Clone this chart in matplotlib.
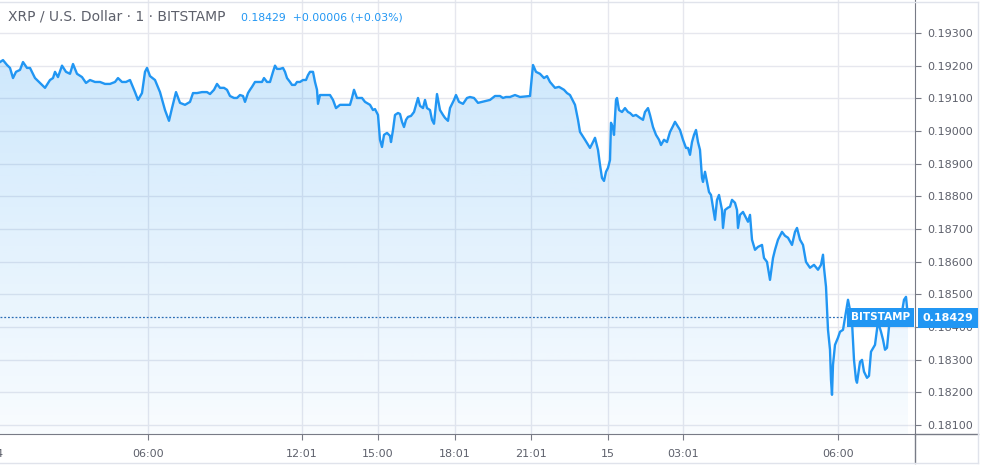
import matplotlib
matplotlib.use("Agg")
import matplotlib.pyplot as plt
import numpy as np
from matplotlib.lines import Line2D

# bar index (1-minute bars, chart spacing) and close price
bars = [0, 6, 14, 20, 26, 32, 40, 46, 54, 60, 70, 80, 90, 100, 106, 110, 116, 124, 132, 140,
        146, 154, 164, 172, 180, 190, 200, 210, 220, 230, 236, 244, 252, 260, 270, 276, 284, 290, 294, 300,
        310, 320, 330, 338, 344, 352, 360, 370, 380, 386, 394, 404, 414, 420, 428, 434, 440, 448, 454, 460,
        468, 474, 480, 486, 490, 496, 500, 504, 510, 516, 524, 528, 534, 540, 546, 550, 554, 560, 566, 570,
        574, 580, 584, 590, 594, 600, 606, 612, 616, 620, 626, 630, 634, 636, 640, 650, 660, 666, 672, 680,
        690, 700, 704, 708, 714, 724, 730, 740, 746, 750, 756, 760, 764, 768, 774, 780, 782, 786, 790, 796,
        800, 804, 808, 812, 816, 822, 828, 836, 840, 846, 850, 854, 860, 864, 868, 872, 874, 880, 886, 890,
        896, 900, 908, 912, 918, 926, 934, 940, 948, 956, 964, 972, 980, 990, 1000, 1006, 1012, 1020, 1030, 1040,
        1060, 1066, 1072, 1080, 1088, 1094, 1100, 1110, 1118, 1128, 1134, 1140, 1150, 1156, 1160, 1170, 1180, 1186, 1190, 1196,
        1200, 1204, 1208, 1212, 1216, 1220, 1222, 1226, 1228, 1232, 1234, 1238, 1244, 1250, 1256, 1260, 1266, 1272, 1280, 1286,
        1290, 1296, 1300, 1306, 1312, 1318, 1322, 1328, 1334, 1340, 1346, 1350, 1354, 1360, 1366, 1372, 1376, 1380, 1384, 1388,
        1392, 1396, 1400, 1404, 1406, 1410, 1414, 1418, 1422, 1426, 1430, 1434, 1438, 1442, 1444, 1446, 1450, 1456, 1460, 1464,
        1470, 1474, 1476, 1480, 1486, 1492, 1496, 1500, 1504, 1510, 1516, 1524, 1528, 1534, 1540, 1546, 1550, 1556, 1564, 1570,
        1576, 1584, 1590, 1594, 1600, 1606, 1612, 1620, 1628, 1636, 1642, 1646, 1648, 1652, 1656, 1660, 1662, 1664, 1666, 1670,
        1676, 1680, 1686, 1690, 1696, 1700, 1704, 1708, 1712, 1714, 1720, 1724, 1728, 1734, 1738, 1742, 1750, 1756, 1762, 1766,
        1770, 1774, 1778, 1784, 1790, 1798, 1804, 1808, 1812, 1816]

close = [0.19211, 0.19217, 0.19202, 0.19193, 0.19162, 0.19181, 0.19187, 0.19211, 0.19193, 0.19193,
         0.19162, 0.19147, 0.19132, 0.19156, 0.19162, 0.19181, 0.19165, 0.19200, 0.19181, 0.19175,
         0.19205, 0.19175, 0.19165, 0.19147, 0.19156, 0.19150, 0.19150, 0.19144, 0.19144, 0.19150,
         0.19162, 0.19150, 0.19150, 0.19156, 0.19119, 0.19095, 0.19116, 0.19181, 0.19193, 0.19168,
         0.19156, 0.19119, 0.19064, 0.19031, 0.19070, 0.19119, 0.19086, 0.19080, 0.19089, 0.19116,
         0.19116, 0.19119, 0.19119, 0.19113, 0.19126, 0.19144, 0.19132, 0.19132, 0.19126, 0.19107,
         0.19101, 0.19101, 0.19110, 0.19107, 0.19089, 0.19116, 0.19126, 0.19135, 0.19150, 0.19150,
         0.19150, 0.19162, 0.19150, 0.19150, 0.19181, 0.19200, 0.19190, 0.19190, 0.19193, 0.19181,
         0.19162, 0.19150, 0.19141, 0.19141, 0.19150, 0.19150, 0.19156, 0.19156, 0.19171, 0.19181,
         0.19181, 0.19150, 0.19126, 0.19083, 0.19110, 0.19110, 0.19110, 0.19095, 0.19070, 0.19080,
         0.19080, 0.19080, 0.19101, 0.19126, 0.19101, 0.19101, 0.19089, 0.19080, 0.19064, 0.19067,
         0.19049, 0.18973, 0.18951, 0.18988, 0.18994, 0.18985, 0.18966, 0.19003, 0.19049, 0.19055,
         0.19052, 0.19028, 0.19012, 0.19034, 0.19043, 0.19046, 0.19058, 0.19101, 0.19077, 0.19070,
         0.19095, 0.19070, 0.19064, 0.19034, 0.19022, 0.19083, 0.19113, 0.19064, 0.19049, 0.19040,
         0.19031, 0.19070, 0.19095, 0.19110, 0.19089, 0.19083, 0.19101, 0.19104, 0.19101, 0.19086,
         0.19089, 0.19092, 0.19095, 0.19107, 0.19107, 0.19101, 0.19104, 0.19104, 0.19110, 0.19104,
         0.19107, 0.19202, 0.19181, 0.19175, 0.19162, 0.19168, 0.19150, 0.19132, 0.19135, 0.19126,
         0.19116, 0.19110, 0.19080, 0.19034, 0.18997, 0.18973, 0.18948, 0.18966, 0.18979, 0.18942,
         0.18896, 0.18856, 0.18847, 0.18875, 0.18887, 0.18911, 0.19025, 0.19009, 0.18988, 0.19095,
         0.19101, 0.19064, 0.19058, 0.19070, 0.19058, 0.19055, 0.19046, 0.19049, 0.19040, 0.19034,
         0.19058, 0.19070, 0.19049, 0.19012, 0.18988, 0.18973, 0.18957, 0.18973, 0.18966, 0.18997,
         0.19015, 0.19028, 0.19018, 0.19003, 0.18973, 0.18948, 0.18948, 0.18927, 0.18966, 0.18988,
         0.19003, 0.18966, 0.18942, 0.18856, 0.18844, 0.18875, 0.18844, 0.18813, 0.18804, 0.18765,
         0.18728, 0.18789, 0.18804, 0.18774, 0.18758, 0.18703, 0.18758, 0.18765, 0.18768, 0.18789,
         0.18780, 0.18758, 0.18703, 0.18743, 0.18752, 0.18734, 0.18722, 0.18743, 0.18667, 0.18636,
         0.18645, 0.18651, 0.18611, 0.18599, 0.18544, 0.18611, 0.18636, 0.18667, 0.18691, 0.18679,
         0.18673, 0.18651, 0.18691, 0.18703, 0.18667, 0.18651, 0.18599, 0.18581, 0.18590, 0.18575,
         0.18590, 0.18621, 0.18581, 0.18523, 0.18391, 0.18330, 0.18238, 0.18192, 0.18284, 0.18345,
         0.18367, 0.18385, 0.18391, 0.18428, 0.18483, 0.18452, 0.18416, 0.18299, 0.18238, 0.18229,
         0.18293, 0.18299, 0.18263, 0.18244, 0.18250, 0.18324, 0.18345, 0.18416, 0.18385, 0.18361,
         0.18330, 0.18336, 0.18400, 0.18428, 0.18434, 0.18440, 0.18446, 0.18483, 0.18492, 0.18429]

tick_bars = [296, 604, 756, 910, 1062, 1216, 1366, 1676]
tick_labels = ["06:00", "12:01", "15:00", "18:01", "21:01", "15", "03:01", "06:00"]
price_ticks = [0.181, 0.182, 0.183, 0.184, 0.185, 0.186, 0.187, 0.188, 0.189, 0.190, 0.191, 0.192, 0.193]
last_price = 0.18429

BLUE = "#2196F3"
GRID = "#e6e7ee"
TXT = "#5d606b"

W, H = 981, 466
fig = plt.figure(figsize=(W / 100, H / 100), dpi=100)
fig.patch.set_facecolor("white")
ax = fig.add_axes([0, 32 / H, 915 / W, 434 / H])

x = np.array(bars)
y = np.array(close)

ax.set_xlim(0, 1830)
ax.set_ylim(0.18072, 0.19401)

# gradient fill under the line
poly = ax.fill_between(x, y, 0.17, color="none", lw=0)
grad = np.zeros((256, 1, 4))
grad[:, 0, 0] = 33 / 255
grad[:, 0, 1] = 150 / 255
grad[:, 0, 2] = 243 / 255
grad[:, 0, 3] = np.linspace(0.25, 0.03, 256)
img = ax.imshow(grad, aspect="auto", extent=[0, 1830, 0.18072, 0.19401], origin="upper", zorder=1)
path = poly.get_paths()[0]
img.set_clip_path(path, transform=ax.transData)

ax.plot(x, y, color=BLUE, lw=1.7, zorder=3, solid_joinstyle="round")

# grid
for t in tick_bars:
    ax.axvline(t, color=GRID, lw=1, zorder=0)
for p in price_ticks:
    ax.axhline(p, color=GRID, lw=1, zorder=0)

# last price line
ax.axhline(last_price, xmax=848 / 915, color="#2a6db5", lw=0.9, ls=(0, (1.5, 1.5)), zorder=2)

for s in ["top", "left"]:
    ax.spines[s].set_visible(False)
ax.spines["right"].set_color("#787b86")
ax.spines["bottom"].set_color("#787b86")

ax.yaxis.tick_right()
ax.set_yticks(price_ticks)
ax.set_yticklabels([f"{p:.5f}" for p in price_ticks])
ax.set_xticks(tick_bars)
ax.set_xticklabels(tick_labels)
ax.tick_params(axis="y", colors="#787b86", labelcolor=TXT, labelsize=8, length=4, pad=5)
ax.tick_params(axis="x", colors="#787b86", labelcolor=TXT, labelsize=8, length=4, pad=7)
ax.text(-6, 0.18072 - 0.00045, "14", ha="center", va="top",
        fontsize=8, color=TXT, clip_on=False)

# labels on the right
ax.text(1761, last_price, "BITSTAMP", ha="center", va="center", fontsize=7.5, color="white",
        fontweight="bold", zorder=6,
        bbox=dict(boxstyle="square,pad=0.4", fc=BLUE, ec="none"))
fig.text(948 / W, 1 - 318 / H, "0.18429", ha="center", va="center", fontsize=8, color="white",
         fontweight="bold", zorder=6,
         bbox=dict(boxstyle="square,pad=0.45", fc=BLUE, ec="none"))

# header
fig.text(8 / W, 1 - 17 / H, "XRP / U.S. Dollar · 1 · BITSTAMP", ha="left", va="center",
         fontsize=10, color=TXT)
fig.text(241 / W, 1 - 17 / H, "0.18429  +0.00006 (+0.03%)", ha="left", va="center",
         fontsize=7.8, color=BLUE)

# frame lines
fig.add_artist(Line2D([915 / W, 978 / W], [32 / H, 32 / H], color="#787b86", lw=1))
fig.add_artist(Line2D([915 / W, 915 / W], [3 / H, 32 / H], color="#787b86", lw=1))
fig.add_artist(Line2D([0, 978 / W], [1 - 2 / H, 1 - 2 / H], color="#e0e3eb", lw=1))
fig.add_artist(Line2D([978 / W, 978 / W], [3 / H, 1 - 2 / H], color="#e0e3eb", lw=1))
fig.add_artist(Line2D([0, 978 / W], [3 / H, 3 / H], color="#e0e3eb", lw=1))

fig.savefig("out.png", dpi=100)
